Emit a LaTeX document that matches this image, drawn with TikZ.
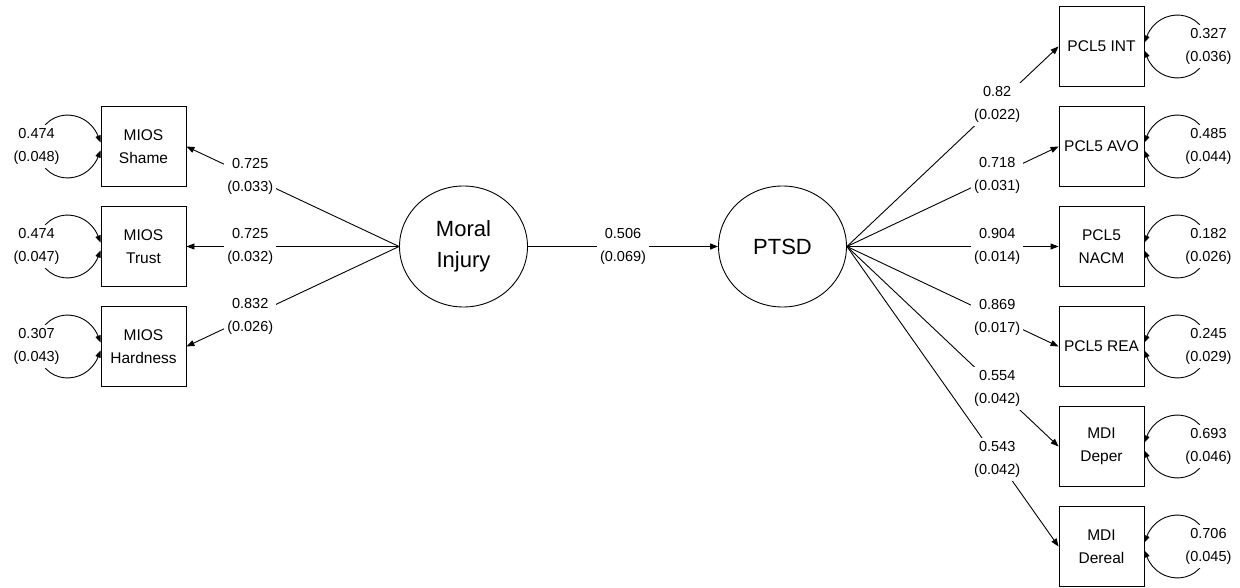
\documentclass[tikz,border=0pt]{standalone}
\usepackage{fontspec}
\setmainfont{Liberation Sans}
\usetikzlibrary{arrows.meta,shapes.geometric}
\begin{document}
\begin{tikzpicture}[x=1pt,y=1pt,
  obs/.style={draw, line width=0.9pt, minimum width=85pt, minimum height=80pt, inner sep=0pt, align=center, font=\fontsize{15.5}{22.5}\selectfont},
  lat/.style={draw, ellipse, line width=0.9pt, minimum width=128pt, minimum height=121pt, inner sep=0pt, align=center, font=\fontsize{22}{31}\selectfont},
  lab/.style={fill=white, inner sep=3pt, align=center, font=\fontsize{14.5}{23}\selectfont},
  conn/.style={line width=0.9pt, -{Triangle[length=8pt,width=6pt]}},
  varr/.style={line width=0.9pt, {Triangle[length=7pt,width=5.5pt]}-{Triangle[length=7pt,width=5.5pt]}},
  rloop/.style={insert path={(0,4) .. controls (14,40) and (60,40) .. (64,0) .. controls (60,-40) and (14,-40) .. (0,-4)}},
  lloop/.style={insert path={(0,4) .. controls (-14,40) and (-60,40) .. (-64,0) .. controls (-60,-40) and (-14,-40) .. (0,-4)}},
]
\useasboundingbox (0,0) rectangle (1240,587);

% observed, left
\node[obs] (shame) at (143.5,440.5) {MIOS\\Shame};
\node[obs] (trust) at (143.5,340.5) {MIOS\\Trust};
\node[obs] (hard)  at (143.5,240.5) {MIOS\\Hardness};

% latent
\node[lat] (mi)   at (463.5,340.5) {Moral\\Injury};
\node[lat] (ptsd) at (782.5,340.5) {PTSD};

% observed, right
\node[obs] (int)  at (1101.5,540.5) {PCL5 INT};
\node[obs] (avo)  at (1101.5,440.5) {PCL5 AVO};
\node[obs] (nacm) at (1101.5,340.5) {PCL5\\NACM};
\node[obs] (rea)  at (1101.5,240.5) {PCL5 REA};
\node[obs] (dep)  at (1101.5,140.5) {MDI\\Deper};
\node[obs] (der)  at (1101.5,40.5)  {MDI\\Dereal};

% loadings, left
\draw[conn] (mi.west) -- node[lab,pos=0.7] (lshame) {0.725\\(0.033)} (shame.east);
\draw[conn] (mi.west) -- node[lab,pos=0.7] (ltrust) {0.725\\(0.032)} (trust.east);
\draw[conn] (mi.west) -- node[lab,pos=0.7] (lhard)  {0.832\\(0.026)} (hard.east);

% structural path
\draw[conn] (mi.east) -- node[lab,pos=0.5] (lpath) {0.506\\(0.069)} (ptsd.west);

% loadings, right
\draw[conn] (ptsd.east) -- node[lab,pos=0.71] (lint)  {0.82\\(0.022)}  (int.west);
\draw[conn] (ptsd.east) -- node[lab,pos=0.71] (lavo)  {0.718\\(0.031)} (avo.west);
\draw[conn] (ptsd.east) -- node[lab,pos=0.71] (lnacm) {0.904\\(0.014)} (nacm.west);
\draw[conn] (ptsd.east) -- node[lab,pos=0.71] (lrea)  {0.869\\(0.017)} (rea.west);
\draw[conn] (ptsd.east) -- node[lab,pos=0.71] (ldep)  {0.554\\(0.042)} (dep.west);
\draw[conn] (ptsd.east) -- node[lab,pos=0.71] (lder)  {0.543\\(0.042)} (der.west);

% residual variances, left
\foreach \b/\t/\n in {shame/{0.474\\(0.048)}/vshame, trust/{0.474\\(0.047)}/vtrust, hard/{0.307\\(0.043)}/vhard}{
  \begin{scope}[shift={(\b.west)}]
    \draw[varr, lloop];
  \end{scope}
  \node[lab] (\n) at ([xshift=-64pt]\b.west) {\t};
}

% residual variances, right
\foreach \b/\t/\n in {int/{0.327\\(0.036)}/vint, avo/{0.485\\(0.044)}/vavo, nacm/{0.182\\(0.026)}/vnacm, rea/{0.245\\(0.029)}/vrea, dep/{0.693\\(0.046)}/vdep, der/{0.706\\(0.045)}/vder}{
  \begin{scope}[shift={(\b.east)}]
    \draw[varr, rloop];
  \end{scope}
  \node[lab] (\n) at ([xshift=64pt]\b.east) {\t};
}
\end{tikzpicture}
\end{document}
